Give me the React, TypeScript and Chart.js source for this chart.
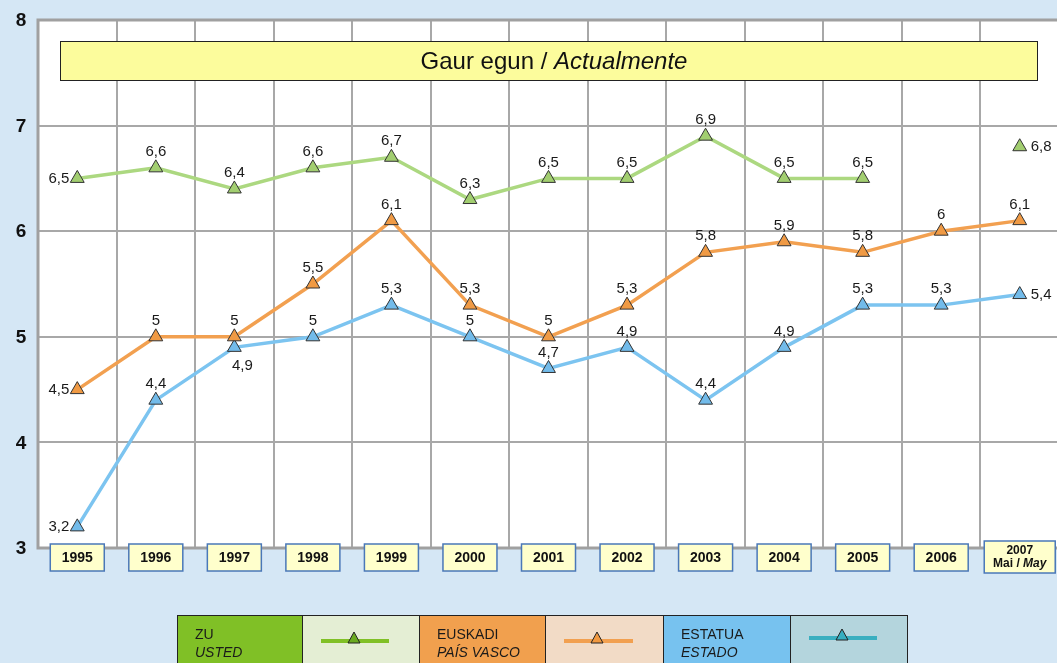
import React, { useEffect, useRef } from "react";
import { Chart, registerables } from "chart.js";
Chart.register(...registerables);

const years = ["1995", "1996", "1997", "1998", "1999", "2000", "2001", "2002", "2003", "2004", "2005", "2006", "2007"];
const zuValues = [6.5, 6.6, 6.4, 6.6, 6.7, 6.3, 6.5, 6.5, 6.9, 6.5, 6.5, null, 6.8];
const euskadiValues = [4.5, 5, 5, 5.5, 6.1, 5.3, 5, 5.3, 5.8, 5.9, 5.8, 6, 6.1];
const estadoValues = [3.2, 4.4, 4.9, 5, 5.3, 5, 4.7, 4.9, 4.4, 4.9, 5.3, 5.3, 5.4];
const yTicks = [3, 4, 5, 6, 7, 8];
const titleText = "Gaur egun / ";
const titleItalic = "Actualmente";
const lastLabelTop = "2007";
const lastLabelBottom = "Mai / ";
const lastLabelItalic = "May";
const legendNames = [
  ["ZU", "USTED"],
  ["EUSKADI", "PAÍS VASCO"],
  ["ESTATUA", "ESTADO"],
];

// label placement per point (style, kept separate from data)
const zuPos = ["left", "top", "top", "top", "top", "top", "top", "top", "top", "top", "top", "top", "right"];
const euPos = ["left", "top", "top", "top", "top", "top", "top", "top", "top", "top", "top", "top", "top"];
const esPos = ["left", "top", "below", "top", "top", "top", "top", "top", "top", "top", "top", "top", "right"];

const FONT = '"Liberation Sans", Arial, sans-serif';
const CW = 1068;

const fmt = (v: number) => String(v).replace(".", ",");

export default function App() {
  const ref = useRef<HTMLCanvasElement>(null);
  useEffect(() => {
    const canvas = ref.current!;
    const positions = [zuPos, euPos, esPos];

    const decor = {
      id: "decor",
      beforeDraw(chart: any) {
        const { ctx, width, height } = chart;
        ctx.save();
        ctx.fillStyle = "#d5e7f5";
        ctx.fillRect(0, 0, width, height);
        const a = chart.chartArea;
        ctx.fillStyle = "#ffffff";
        ctx.fillRect(a.left, a.top, a.right - a.left, a.bottom - a.top);
        ctx.restore();
      },
      beforeDatasetsDraw(chart: any) {
        const { ctx } = chart;
        const a = chart.chartArea;
        ctx.save();
        ctx.strokeStyle = "#a0a0a0";
        ctx.lineWidth = 3;
        ctx.strokeRect(a.left, a.top, a.right - a.left, a.bottom - a.top);
        // title box
        ctx.fillStyle = "#fcfc9c";
        ctx.fillRect(60, 41, 977, 39);
        ctx.strokeStyle = "#222";
        ctx.lineWidth = 1;
        ctx.strokeRect(60.5, 41.5, 977, 39);
        ctx.fillStyle = "#111";
        ctx.textBaseline = "middle";
        ctx.font = `24px ${FONT}`;
        const w1 = ctx.measureText(titleText).width;
        ctx.font = `italic 24px ${FONT}`;
        const w2 = ctx.measureText(titleItalic).width;
        const sx = 554 - (w1 + w2) / 2;
        ctx.font = `24px ${FONT}`;
        ctx.textAlign = "left";
        ctx.fillText(titleText, sx, 62);
        ctx.font = `italic 24px ${FONT}`;
        ctx.fillText(titleItalic, sx + w1, 62);
        // y tick labels
        const ys = chart.scales.y;
        ctx.font = `bold 19px ${FONT}`;
        ctx.textAlign = "center";
        ctx.fillStyle = "#111";
        yTicks.forEach((t) => {
          ctx.fillText(String(t), 21, ys.getPixelForValue(t) + 1);
        });
        ctx.restore();
      },
      afterDatasetsDraw(chart: any) {
        const { ctx } = chart;
        ctx.save();
        ctx.font = `15px ${FONT}`;
        ctx.fillStyle = "#1a1a1a";
        ctx.textBaseline = "middle";
        chart.data.datasets.forEach((ds: any, di: number) => {
          const meta = chart.getDatasetMeta(di);
          meta.data.forEach((pt: any, i: number) => {
            const v = ds.data[i];
            if (v == null) return;
            const pos = positions[di][i];
            const t = fmt(v);
            if (pos === "top") {
              ctx.textAlign = "center";
              ctx.fillText(t, pt.x, pt.y - 16);
            } else if (pos === "left") {
              ctx.textAlign = "right";
              ctx.fillText(t, pt.x - 8, pt.y);
            } else if (pos === "right") {
              ctx.textAlign = "left";
              ctx.fillText(t, pt.x + 11, pt.y);
            } else {
              ctx.textAlign = "center";
              ctx.fillText(t, pt.x + 8, pt.y + 18);
            }
          });
        });
        ctx.restore();
      },
      afterDraw(chart: any) {
        const { ctx } = chart;
        const xs = chart.scales.x;
        ctx.save();
        ctx.textBaseline = "middle";
        ctx.textAlign = "center";
        years.forEach((y, i) => {
          const cx = xs.getPixelForValue(i);
          const last = i === years.length - 1;
          const bw = last ? 71 : 54;
          const bh = last ? 32 : 27;
          const by = last ? 541 : 544;
          ctx.fillStyle = "#ffffcc";
          ctx.fillRect(cx - bw / 2, by, bw, bh);
          ctx.strokeStyle = "#4a78b8";
          ctx.lineWidth = 1.5;
          ctx.strokeRect(cx - bw / 2, by, bw, bh);
          ctx.fillStyle = "#111";
          if (!last) {
            ctx.font = `bold 14px ${FONT}`;
            ctx.fillText(y, cx, by + bh / 2 + 1);
          } else {
            ctx.font = `bold 12px ${FONT}`;
            ctx.fillText(lastLabelTop, cx, by + 10);
            const w1 = ctx.measureText(lastLabelBottom).width;
            ctx.font = `bold italic 12px ${FONT}`;
            const w2 = ctx.measureText(lastLabelItalic).width;
            const sx = cx - (w1 + w2) / 2;
            ctx.textAlign = "left";
            ctx.font = `bold 12px ${FONT}`;
            ctx.fillText(lastLabelBottom, sx, by + 23);
            ctx.font = `bold italic 12px ${FONT}`;
            ctx.fillText(lastLabelItalic, sx + w1, by + 23);
            ctx.textAlign = "center";
          }
        });
        // legend
        const cells = [177, 302, 419, 545, 663, 790, 907];
        const fills = ["#80c026", "#e4eed4", "#f1a04e", "#f2dbc6", "#77c2ef", "#b4d5dd"];
        const lineCols = ["#80c026", "#f2a050", "#3aafc0"];
        const triCols = ["#6aaa20", "#f09840", "#36aec0"];
        const top = 615;
        for (let k = 0; k < 6; k++) {
          ctx.fillStyle = fills[k];
          ctx.fillRect(cells[k], top, cells[k + 1] - cells[k], 60);
          ctx.strokeStyle = "#222";
          ctx.lineWidth = 1;
          ctx.strokeRect(cells[k] + 0.5, top + 0.5, cells[k + 1] - cells[k], 60);
        }
        for (let s = 0; s < 3; s++) {
          const x0 = cells[s * 2];
          ctx.fillStyle = "#1a1a1a";
          ctx.textAlign = "left";
          ctx.font = `14px ${FONT}`;
          ctx.fillText(legendNames[s][0], x0 + 18, 635);
          ctx.font = `italic 14px ${FONT}`;
          ctx.fillText(legendNames[s][1], x0 + 18, 653);
          const c0 = cells[s * 2 + 1];
          const c1 = cells[s * 2 + 2];
          const ly = s === 2 ? 638 : 641;
          ctx.strokeStyle = lineCols[s];
          ctx.lineWidth = 4;
          ctx.beginPath();
          ctx.moveTo(c0 + 19, ly);
          ctx.lineTo(c1 - 30, ly);
          ctx.stroke();
          const tx = c0 + 52;
          ctx.fillStyle = triCols[s];
          ctx.strokeStyle = "#222";
          ctx.lineWidth = 1;
          ctx.beginPath();
          ctx.moveTo(tx, ly - 9);
          ctx.lineTo(tx + 6, ly + 2);
          ctx.lineTo(tx - 6, ly + 2);
          ctx.closePath();
          ctx.fill();
          ctx.stroke();
        }
        ctx.restore();
      },
    };

    const mk = (label: string, data: any[], line: string, pt: string) => ({
      label,
      data,
      borderColor: line,
      backgroundColor: pt,
      borderWidth: 3.5,
      pointStyle: "triangle",
      pointRadius: 8,
      pointBackgroundColor: pt,
      pointBorderColor: "#333",
      pointBorderWidth: 1,
      tension: 0,
      spanGaps: false,
    });

    const chart = new Chart(canvas, {
      type: "line",
      data: {
        labels: years,
        datasets: [
          mk("ZU", zuValues, "#acd880", "#a2ce70"),
          mk("EUSKADI", euskadiValues, "#f2a050", "#f09a44"),
          mk("ESTATUA", estadoValues, "#7cc4f0", "#72bbea"),
        ],
      },
      options: {
        responsive: false,
        animation: false,
        layout: { padding: { top: 20, left: 0, right: 0, bottom: 0 } },
        plugins: { legend: { display: false }, tooltip: { enabled: false } },
        scales: {
          x: {
            offset: true,
            grid: { offset: true, color: "#a8a8a8", lineWidth: 2, drawTicks: false },
            border: { display: false },
            ticks: { display: false },
            afterFit: (s: any) => {
              s.height = 115;
            },
          },
          y: {
            min: 3,
            max: 8,
            ticks: { display: false, stepSize: 1 },
            grid: { color: "#a8a8a8", lineWidth: 2, drawTicks: false },
            border: { display: false },
            afterFit: (s: any) => {
              s.width = 38;
            },
          },
        },
      },
      plugins: [decor],
    } as any);
    return () => chart.destroy();
  }, []);
  return (
    <div style={{ position: "fixed", left: 0, top: 0, width: 1057, height: 663, overflow: "hidden", background: "#d5e7f5" }}>
      <canvas ref={ref} width={CW} height={663} style={{ display: "block", width: CW, height: 663 }} />
    </div>
  );
}
